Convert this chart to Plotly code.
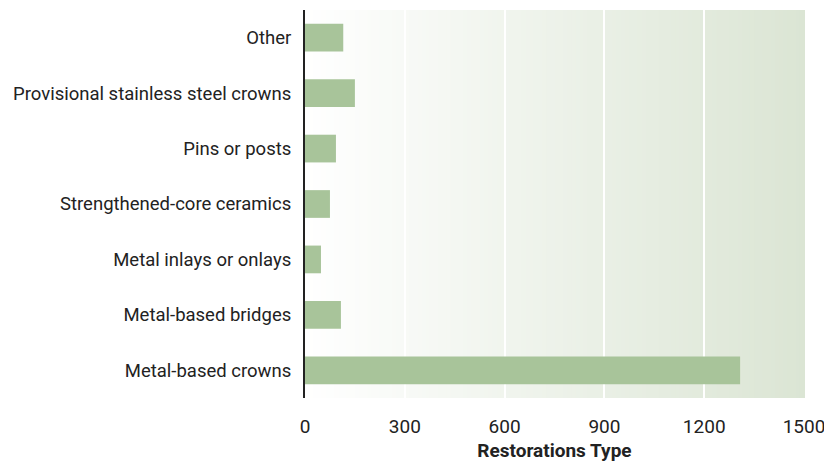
import plotly.graph_objects as go

categories = ["Metal-based crowns", "Metal-based bridges", "Metal inlays or onlays",
              "Strengthened-core ceramics", "Pins or posts",
              "Provisional stainless steel crowns", "Other"]
values = [1308, 108, 48, 75, 93, 150, 115]
tick_vals = [0, 300, 600, 900, 1200, 1500]

FONT = "Roboto, sans-serif"

fig = go.Figure()
fig.add_trace(go.Bar(
    y=categories, x=values, orientation="h",
    marker=dict(color="#a8c49a", line=dict(width=0)),
    width=0.5,
))

# gradient background strips
n = 120
c0 = (255, 255, 255)
c1 = (219, 229, 212)
shapes = []
for i in range(n):
    t = (i + 0.5) / n
    col = tuple(round(c0[k] + (c1[k] - c0[k]) * t) for k in range(3))
    shapes.append(dict(type="rect", xref="x domain", yref="y domain",
                       x0=i / n, x1=(i + 1) / n + 0.002, y0=0, y1=1,
                       fillcolor="rgb(%d,%d,%d)" % col, line=dict(width=0),
                       layer="below"))

fig.update_layout(
    width=824, height=462,
    margin=dict(l=305, r=20, t=10, b=64),
    paper_bgcolor="white", plot_bgcolor="white",
    shapes=shapes,
    showlegend=False,
    font=dict(family=FONT, size=19, color="#222"),
    xaxis=dict(range=[0, 1500], tickvals=tick_vals, showgrid=True,
               gridcolor="white", gridwidth=2, zeroline=False, automargin=False,
               showline=False, ticks="", ticklabeloverflow="allow",
               ticklabelstandoff=15,
               tickfont=dict(size=19, color="#222"),
               title=dict(text="<b>Restorations Type</b>", font=dict(size=19, color="#222"),
                          standoff=8)),
    yaxis=dict(showline=True, linecolor="#222", linewidth=2, ticks="", automargin=False,
               showgrid=False, tickfont=dict(size=18.5, color="#222"),
               categoryorder="array", categoryarray=categories, ticklabelstandoff=8),
)

fig.write_html("out.html", config={"displayModeBar": False},
               post_script="document.body.style.margin='0';document.body.style.overflow='hidden';")
